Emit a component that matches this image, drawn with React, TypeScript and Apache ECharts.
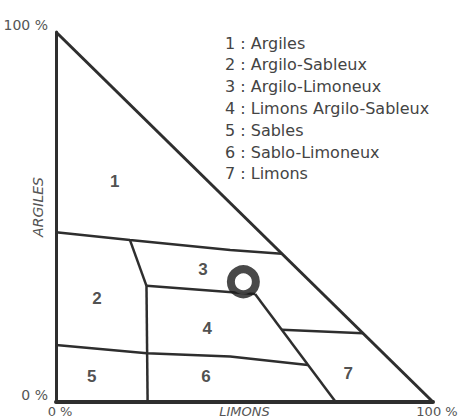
import React, { useEffect, useRef } from "react";
import * as echarts from "echarts";

// ---- data (limons %, argiles %) ----
const legendItems = [
  "1 : Argiles",
  "2 : Argilo-Sableux",
  "3 : Argilo-Limoneux",
  "4 : Limons Argilo-Sableux",
  "5 : Sables",
  "6 : Sablo-Limoneux",
  "7 : Limons",
];
const xTickLabels = ["0 %", "100 %"];
const yTickLabels = ["0 %", "100 %"];
const xAxisName = "LIMONS";
const yAxisName = "ARGILES";

const hypotenuse = [
  [0, 100],
  [100, 0],
];
const boundaryTop = [
  [0, 45.9],
  [19.6, 43.8],
  [46.2, 41.1],
  [59.9, 40.1],
];
const boundary2to3 = [
  [19.6, 43.8],
  [24.0, 31.4],
];
const boundaryVertical = [
  [24.0, 31.4],
  [24.3, 0],
];
const boundary3to4 = [
  [24.0, 31.4],
  [52.8, 29.2],
];
const boundaryDiagonal = [
  [52.8, 29.2],
  [74.2, 0],
];
const boundary3to7 = [
  [59.9, 19.5],
  [81.4, 18.6],
];
const boundaryLow = [
  [0, 15.4],
  [24.1, 13.2],
  [46.2, 12.3],
  [66.8, 10.0],
];
const regionNames = ["1", "2", "3", "4", "5", "6", "7"];
const regionPositions = [
  [15.6, 59.5],
  [10.9, 28.1],
  [39.0, 35.7],
  [40.1, 20.0],
  [9.5, 6.8],
  [39.8, 6.8],
  [77.5, 7.8],
];
const samplePoint = [[49.7, 32.5]];

const LINE = "#2e2e2e";
const FONT = "DejaVu Sans";

export default function App() {
  const ref = useRef<HTMLDivElement>(null);
  useEffect(() => {
    if (!ref.current) return;
    const chart = echarts.init(ref.current, undefined, { renderer: "svg" });
    const boundaryLines = [
      boundaryTop,
      boundary2to3,
      boundaryVertical,
      boundary3to4,
      boundaryDiagonal,
      boundary3to7,
      boundaryLow,
    ];
    const lineSeries = (data: number[][], width: number) => ({
      type: "line",
      data,
      symbol: "none",
      clip: false,
      silent: true,
      lineStyle: { color: LINE, width },
      z: 3,
    });
    chart.setOption({
      animation: false,
      backgroundColor: "#ffffff",
      grid: {
        left: 56,
        top: 32,
        width: 377,
        height: 370,
        containLabel: false,
        outerBoundsMode: "none",
      },
      xAxis: {
        type: "value",
        min: 0,
        max: 100,
        interval: 100,
        name: xAxisName,
        nameLocation: "middle",
        nameGap: 3,
        nameMoveOverlap: false,
        nameTextStyle: {
          fontFamily: FONT,
          fontSize: 13,
          lineHeight: 13,
          fontStyle: "italic",
          color: "#555",
        },
        axisLine: { show: true, lineStyle: { color: LINE, width: 4 } },
        axisTick: { show: false },
        splitLine: { show: false },
        axisLabel: {
          margin: 3,
          fontFamily: FONT,
          fontSize: 13,
          color: "#555",
          padding: [0, 0, 0, 8],
          formatter: (_v: number, i: number) => xTickLabels[i],
        },
      },
      yAxis: {
        type: "value",
        min: 0,
        max: 100,
        interval: 100,
        axisLine: { show: true, lineStyle: { color: LINE, width: 3 } },
        axisTick: { show: false },
        splitLine: { show: false },
        axisLabel: {
          margin: 8,
          fontFamily: FONT,
          fontSize: 14,
          color: "#555",
          verticalAlign: "bottom",
          formatter: (_v: number, i: number) => yTickLabels[i],
        },
      },
      graphic: [
        {
          type: "text",
          x: 38,
          y: 207,
          rotation: Math.PI / 2,
          style: {
            text: yAxisName,
            fontFamily: FONT,
            fontSize: 14,
            fontStyle: "italic",
            fill: "#555",
            textAlign: "center",
            textVerticalAlign: "middle",
          },
        },
        ...legendItems.map((t, i) => ({
          type: "text",
          x: 225,
          y: 43 + i * 21.8,
          style: {
            text: t,
            fontFamily: FONT,
            fontSize: 16,
            fill: "#444",
            textAlign: "left",
            textVerticalAlign: "middle",
          },
        })),
      ],
      series: [
        lineSeries(hypotenuse, 3),
        ...boundaryLines.map((d) => lineSeries(d, 2.5)),
        {
          type: "scatter",
          data: regionPositions.map((p, i) => ({ value: p, name: regionNames[i] })),
          symbolSize: 1,
          itemStyle: { color: "transparent" },
          silent: true,
          label: {
            show: true,
            position: "inside",
            formatter: (p: any) => p.name,
            fontFamily: "Liberation Sans",
            fontWeight: "bold",
            fontSize: 17,
            color: "#222",
          },
          z: 4,
        },
        {
          type: "scatter",
          data: samplePoint,
          symbol: "circle",
          symbolSize: 25,
          itemStyle: { color: "#ffffff", borderColor: "#1c1c1c", borderWidth: 8 },
          silent: true,
          z: 5,
        },
      ],
    });
    return () => chart.dispose();
  }, []);
  return (
    <div
      ref={ref}
      style={{ position: "absolute", left: 0, top: 0, width: 459, height: 419 }}
    />
  );
}
